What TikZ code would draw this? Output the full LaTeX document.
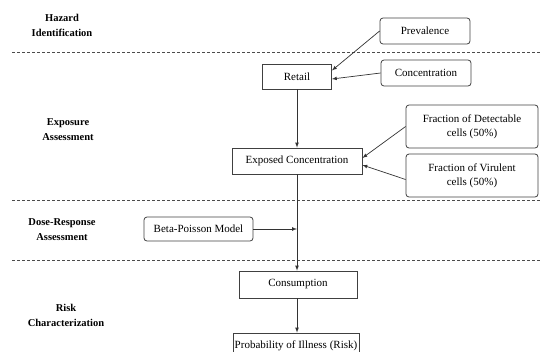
\documentclass[tikz,border=0pt]{standalone}
\usepackage{fontspec}
\setmainfont{Liberation Serif}
\usepackage{tikz}
\usetikzlibrary{shapes.geometric, arrows, positioning}
\tikzstyle{stage} = [rectangle, draw=black!75, line width=0.8pt, inner sep=0pt, text centered, font=\fontsize{11}{13}\selectfont]
\tikzstyle{input} = [rectangle, rounded corners=3pt, draw=black!75, line width=0.8pt, inner sep=0pt, align=center, font=\fontsize{11}{14}\selectfont]
\tikzstyle{phase} = [align=center, font=\fontsize{10.5}{15}\selectfont\bfseries]
\tikzstyle{arrow} = [line width=0.7pt, draw=black!80, ->, >=latex]
\tikzstyle{divider} = [line width=0.6pt, draw=black!70, dash pattern=on 3pt off 2pt]

\begin{document}
\begin{tikzpicture}[x=1pt, y=-1pt]
\useasboundingbox (0,0) rectangle (540,351);

% Phases
\node (hazard) [phase] at (62,25) {Hazard\\Identification};
\node (exposure) [phase] at (68,130) {Exposure\\Assessment};
\node (dose) [phase] at (62,230) {Dose-Response\\Assessment};
\node (risk) [phase] at (66,315) {Risk\\Characterization};

\draw [divider] (12,52) -- (540,52);
\draw [divider] (12,200) -- (540,200);
\draw [divider] (12,260) -- (540,260);

% Main chain
\node (retail) [stage, minimum width=69pt, minimum height=25pt] at (297,76.5) {Retail};
\node (exposed) [stage, minimum width=130pt, minimum height=26pt] at (297,161) {Exposed Concentration};
\node (consumption) [stage, minimum width=118pt, minimum height=27pt] at (298,284.5) {Consumption};
\node (illness) [stage, minimum width=126pt, minimum height=26pt] at (296,346) {Probability of Illness (Risk)};

% Inputs
\node (prevalence) [input, minimum width=90pt, minimum height=26pt] at (425,31) {Prevalence};
\node (concentration) [input, minimum width=90pt, minimum height=26pt] at (426,73) {Concentration};
\node (detectable) [input, minimum width=132pt, minimum height=43pt] at (472,126.5) {Fraction of Detectable\\cells (50\%)};
\node (virulent) [input, minimum width=132pt, minimum height=43pt] at (472,175.5) {Fraction of Virulent\\cells (50\%)};
\node (betapoisson) [input, minimum width=109pt, minimum height=24pt] at (198.5,229) {Beta-Poisson Model};

\coordinate (join) at (297,229);

% Arrows
\draw [arrow] (prevalence.west) -- ([yshift=6pt]retail.east);
\draw [arrow] (concentration.west) -- ([yshift=-2.5pt]retail.east);
\draw [arrow] (retail) -- (exposed);
\draw [arrow] (detectable.west) -- ([yshift=3pt]exposed.east);
\draw [arrow] ([yshift=-4pt]virulent.west) -- ([yshift=-4pt]exposed.east);
\draw [arrow] (exposed.south -| join) -- (consumption.north -| join);
\draw [arrow] (betapoisson) -- (join);
\draw [arrow] (consumption.south -| join) -- (illness.north -| join);

\end{tikzpicture}
\end{document}
